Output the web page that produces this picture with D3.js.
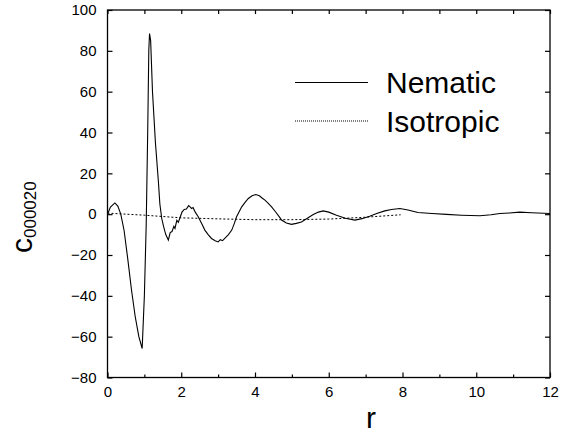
<!DOCTYPE html>
<html>
<head>
<meta charset="utf-8">
<script src="https://cdn.jsdelivr.net/npm/d3@7"></script>
<style>
  body { margin: 0; background: #fff; }
  text { font-family: "Liberation Sans", Arial, sans-serif; fill: #000; }
</style>
</head>
<body>
<div id="chart"></div>
<script>
// nematic curve
var rNem = [0.00, 0.08, 0.20, 0.28, 0.36, 0.45, 0.55, 0.65, 0.75, 0.85, 0.94, 1.00, 1.05, 1.09, 1.12, 1.14, 1.17, 1.22, 1.30, 1.38, 1.42, 1.47, 1.52, 1.58, 1.65, 1.70, 1.75, 1.80, 1.83, 1.88, 1.92, 1.97, 2.02, 2.08, 2.14, 2.20, 2.24, 2.28, 2.32, 2.38, 2.46, 2.55, 2.64, 2.73, 2.82, 2.92, 3.00, 3.06, 3.12, 3.18, 3.28, 3.37, 3.44, 3.50, 3.57, 3.64, 3.73, 3.82, 3.92, 4.02, 4.12, 4.20, 4.27, 4.36, 4.45, 4.55, 4.66, 4.72, 4.85, 4.99, 5.12, 5.26, 5.42, 5.58, 5.72, 5.85, 6.00, 6.21, 6.45, 6.71, 6.90, 7.11, 7.30, 7.52, 7.70, 7.93, 8.15, 8.42, 8.80, 9.19, 9.60, 10.10, 10.40, 10.64, 10.90, 11.18, 11.50, 12.00];
var cNem = [0, 3.5, 5.5, 4, 0, -8, -22, -37, -50, -60, -65.8, -40, -5, 40, 80, 88.5, 85, 60, 35, 16, 5, -2, -6, -10, -12.7, -9, -8.5, -6, -7, -3, -4, -1.5, 1, 2.3, 2.5, 4.2, 3.6, 2.8, 3.2, 1.0, -1.3, -4.5, -7.8, -10, -11.9, -13, -13.6, -12.5, -13, -11.9, -10, -7.8, -4.5, -1.3, 1.2, 3.6, 5.8, 7.7, 9, 9.6, 9, 7.8, 6.9, 5.3, 3.6, 1.3, -1.3, -2.9, -4.3, -5, -4.5, -3.8, -2.0, -0.2, 1.0, 1.6, 1.0, -0.5, -2, -2.9, -2.2, -1, 0.3, 1.6, 2.3, 2.8, 2.0, 0.8, 0.3, -0.1, -0.5, -0.8, -0.3, 0.3, 0.6, 1.0, 0.7, 0.3];

// isotropic curve
var rIso = [0, 1, 2, 3, 4, 5, 6, 7, 7.95];
var cIso = [0.5, -0.5, -1.8, -2.3, -2.7, -2.7, -2.4, -1.5, -0.3];

var xTicks = [0, 2, 4, 6, 8, 10, 12];
var xMinor = [1, 3, 5, 7, 9, 11];
var yTicks = [-80, -60, -40, -20, 0, 20, 40, 60, 80, 100];

var seriesNames = ["Nematic", "Isotropic"];

function init() {
    var w = 568;
    var h = 435;
    var left = 107.5, right = 550, top = 10, bottom = 377.5;

    var svg = d3.select("#chart")
        .append("svg")
        .attr("width", w)
        .attr("height", h);

    var xScale = d3.scaleLinear().domain([0, 12]).range([left, right]);
    var yScale = d3.scaleLinear().domain([-80, 100]).range([bottom, top]);

    // ticks point inward on all four sides
    var fmt = function(d) { return d < 0 ? "\u2212" + Math.abs(d) : d; };

    svg.append("g")
        .attr("transform", "translate(0," + bottom + ")")
        .call(d3.axisBottom(xScale).tickValues(xTicks).tickSizeInner(-5).tickSizeOuter(0).tickPadding(9).tickFormat(fmt))
        .call(function(g) { g.select(".domain").remove(); });
    svg.append("g")
        .attr("transform", "translate(0," + bottom + ")")
        .call(d3.axisBottom(xScale).tickValues(xMinor).tickSize(-3).tickFormat(""))
        .call(function(g) { g.select(".domain").remove(); });
    svg.append("g")
        .attr("transform", "translate(0," + top + ")")
        .call(d3.axisTop(xScale).tickValues(xTicks.concat(xMinor)).tickSize(-4).tickFormat(""))
        .call(function(g) { g.select(".domain").remove(); });
    svg.append("g")
        .attr("transform", "translate(" + left + ",0)")
        .call(d3.axisLeft(yScale).tickValues(yTicks).tickSizeInner(-5).tickSizeOuter(0).tickPadding(11).tickFormat(fmt))
        .call(function(g) { g.select(".domain").remove(); });
    svg.append("g")
        .attr("transform", "translate(" + right + ",0)")
        .call(d3.axisRight(yScale).tickValues(yTicks).tickSize(-5).tickFormat(""))
        .call(function(g) { g.select(".domain").remove(); });

    svg.selectAll(".tick text")
        .style("font-family", "'Liberation Sans', Arial, sans-serif")
        .style("font-size", "15px")
        .attr("fill", "#000");
    svg.selectAll(".tick line").attr("stroke", "#000").attr("stroke-width", 1.2);

    svg.append("rect")
        .attr("x", left).attr("y", top)
        .attr("width", right - left).attr("height", bottom - top)
        .attr("fill", "none").attr("stroke", "#000").attr("stroke-width", 1.3);

    var line = d3.line()
        .x(function(d) { return xScale(d[0]); })
        .y(function(d) { return yScale(d[1]); });

    svg.append("path")
        .datum(d3.zip(rIso, cIso))
        .attr("d", line)
        .attr("fill", "none")
        .attr("stroke", "#000")
        .attr("stroke-width", 1)
        .attr("stroke-dasharray", "2,2");

    svg.append("path")
        .datum(d3.zip(rNem, cNem))
        .attr("d", line)
        .attr("fill", "none")
        .attr("stroke", "#000")
        .attr("stroke-width", 1.1);

    // legend
    var legend = svg.append("g");
    seriesNames.forEach(function(name, i) {
        var ly = 82.5 + i * 38.5;
        legend.append("line")
            .attr("x1", 295).attr("x2", 368)
            .attr("y1", ly).attr("y2", ly)
            .attr("stroke", "#000")
            .attr("stroke-width", 1)
            .attr("stroke-dasharray", i === 0 ? null : "1,1");
        legend.append("text")
            .attr("x", 386)
            .attr("y", ly + 10.5)
            .style("font-size", "30px")
            .text(name);
    });

    // axis titles
    svg.append("text")
        .attr("x", 371)
        .attr("y", 428)
        .attr("text-anchor", "middle")
        .style("font-size", "30px")
        .text("r");

    var yt = svg.append("text")
        .attr("transform", "translate(32,253) rotate(-90)");
    yt.append("tspan").style("font-size", "30px").text("c");
    yt.append("tspan").attr("dy", 4).style("font-size", "17px").text("000020");
}

window.onload = init;
</script>
</body>
</html>
